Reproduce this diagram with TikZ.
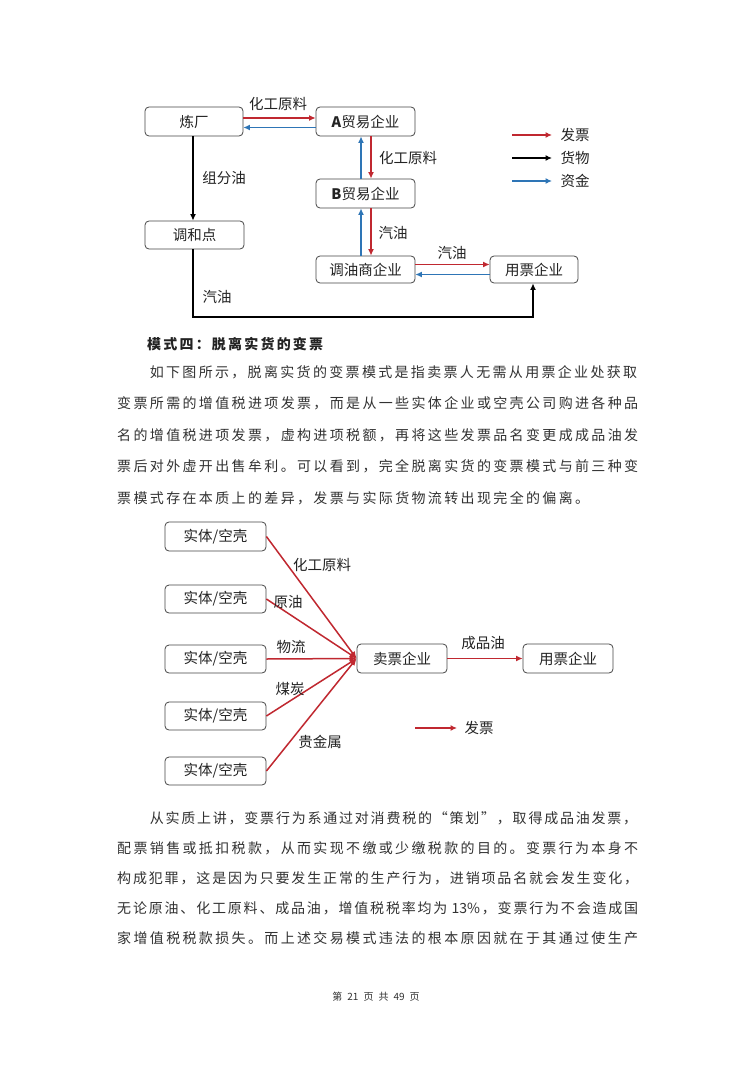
\documentclass[tikz,border=0pt]{standalone}
\usepackage{fontspec}
\setmainfont{Noto Sans CJK SC}
\usetikzlibrary{arrows.meta}
\definecolor{arrred}{RGB}{192,40,48}
\definecolor{arrblue}{RGB}{46,117,182}
\definecolor{boxc}{RGB}{70,70,70}
\definecolor{txt}{RGB}{35,35,35}
\definecolor{bodytxt}{RGB}{50,50,50}
\ExplSyntaxOn
\NewDocumentCommand\spreadline{mm}{\makebox[#1][s]{\tl_map_inline:nn{#2}{##1\hfil}\unskip}}
\ExplSyntaxOff
\tikzset{
  box/.style={draw=boxc, line width=0.8pt, rounded corners=4pt, inner sep=0pt,
    font=\fontsize{14.5}{14.5}\selectfont, text=txt},
  lbl/.style={font=\fontsize{14.5}{14.5}\selectfont, text=txt, inner sep=0pt},
  para/.style={font=\fontsize{14}{14}\selectfont, text=bodytxt, inner sep=0pt, anchor=west},
  ra/.style={draw=arrred, line width=1.5pt, -{Latex[length=6.5pt,width=6pt]}},
  ba/.style={draw=arrblue, line width=1.5pt, -{Latex[length=6.5pt,width=6pt]}},
  ka/.style={draw=black, line width=1.5pt, -{Latex[length=6.5pt,width=6pt]}},
  rl/.style={draw=arrred, line width=1.5pt, -{Latex[length=7pt,width=6pt]}},
}
\begin{document}
\begin{tikzpicture}[x=1pt,y=-1pt]
\useasboundingbox[fill=white] (0,0) rectangle (755,1067);
% ---------- diagram 1 ----------
\node[box, minimum width=98pt, minimum height=29pt] (lc) at (194,121.5) {炼厂};
\node[box, minimum width=99pt, minimum height=29pt] (A) at (365.5,121.5) {\textbf{A}贸易企业};
\node[box, minimum width=99pt, minimum height=29pt] (B) at (365.5,193.5) {\textbf{B}贸易企业};
\node[box, minimum width=99pt, minimum height=28pt] (thd) at (194.5,235) {调和点};
\node[box, minimum width=99pt, minimum height=27pt] (tys) at (365.5,269.5) {调油商企业};
\node[box, minimum width=88pt, minimum height=27pt] (yp1) at (534,269.5) {用票企业};

\draw[ra] ([yshift=3.5pt]lc.east) -- ([yshift=3.5pt]A.west);
\draw[ba] ([yshift=-6pt]A.west) -- ([yshift=-6pt]lc.east);
\draw[ra] ([xshift=5.5pt]A.south) -- ([xshift=5.5pt]B.north);
\draw[ba] ([xshift=-4.5pt]B.north) -- ([xshift=-4.5pt]A.south);
\draw[ra] ([xshift=5.5pt]B.south) -- ([xshift=5.5pt]tys.north);
\draw[ba] ([xshift=-4.5pt]tys.north) -- ([xshift=-4.5pt]B.south);
\draw[ra] ([yshift=5pt]tys.east) -- ([yshift=5pt]yp1.west);
\draw[ba] ([yshift=-5pt]yp1.west) -- ([yshift=-5pt]tys.east);
\draw[ka] ([xshift=-1pt]lc.south) -- ([xshift=-1.5pt]thd.north);
\coordinate (corner) at (533,317);
\draw[ka] ([xshift=-1.5pt]thd.south) |- (corner) -- ([xshift=-1pt]yp1.south);

\node[lbl] (t1) at (278,104) {化工原料};
\node[lbl] (t2) at (408,158) {化工原料};
\node[lbl] (t3) at (224,178) {组分油};
\node[lbl] (t4) at (393,233) {汽油};
\node[lbl] (t5) at (452,253) {汽油};
\node[lbl] (t6) at (217,297) {汽油};

\coordinate (l1a) at (512,135); \coordinate (l1b) at (552,135);
\coordinate (l2a) at (512,158); \coordinate (l2b) at (552,158);
\coordinate (l3a) at (512,181); \coordinate (l3b) at (552,181);
\draw[ra] (l1a) -- (l1b);
\draw[ka] (l2a) -- (l2b);
\draw[ba] (l3a) -- (l3b);
\node[lbl] (lg1) at (575,135) {发票};
\node[lbl] (lg2) at (575,158) {货物};
\node[lbl] (lg3) at (575,181) {资金};

% ---------- text 1 ----------
\node[para, font=\bfseries\fontsize{14}{14}\selectfont, text=txt] (h) at (147,344) {\spreadline{176pt}{模式四：脱离实货的变票}};
\node[para] (a1) at (149.6,372) {\spreadline{487.4pt}{如下图所示，脱离实货的变票模式是指卖票人无需从用票企业处获取}};
\node[para] (a2) at (117,403.5) {\spreadline{521pt}{变票所需的增值税进项发票，而是从一些实体企业或空壳公司购进各种品}};
\node[para] (a3) at (117,435) {\spreadline{521pt}{名的增值税进项发票，虚构进项税额，再将这些发票品名变更成成品油发}};
\node[para] (a4) at (117,466.5) {\spreadline{521pt}{票后对外虚开出售牟利。可以看到，完全脱离实货的变票模式与前三种变}};
\node[para] (a5) at (117,498) {\spreadline{472pt}{票模式存在本质上的差异，发票与实际货物流转出现完全的偏离。}};

% ---------- diagram 2 ----------
\node[box, minimum width=101pt, minimum height=29pt] (s1) at (215.5,536.5) {实体/空壳};
\node[box, minimum width=101pt, minimum height=28pt] (s2) at (215.5,599) {实体/空壳};
\node[box, minimum width=101pt, minimum height=28pt] (s3) at (215.5,659) {实体/空壳};
\node[box, minimum width=101pt, minimum height=28pt] (s4) at (215.5,716) {实体/空壳};
\node[box, minimum width=101pt, minimum height=28pt] (s5) at (215.5,771) {实体/空壳};
\node[box, minimum width=90pt, minimum height=29pt] (mp) at (402,658.5) {卖票企业};
\node[box, minimum width=90pt, minimum height=29pt] (yp2) at (568,658.5) {用票企业};
\foreach \s in {s1,s2,s3,s4,s5}{\draw[rl] (\s.east) -- (mp.west);}
\draw[ra] (mp.east) -- (yp2.west);
\node[lbl] (u1) at (322,565) {化工原料};
\node[lbl] (u2) at (288,602) {原油};
\node[lbl] (u3) at (291,647) {物流};
\node[lbl] (u4) at (290,689) {煤炭};
\node[lbl] (u5) at (320,742) {贵金属};
\node[lbl] (u6) at (483,643) {成品油};
\coordinate (l4a) at (415,728); \coordinate (l4b) at (457,728);
\draw[ra] (l4a) -- (l4b);
\node[lbl] (lg4) at (479,728) {发票};

% ---------- text 2 ----------
\node[para] (b1) at (149.6,818) {\spreadline{487.4pt}{从实质上讲，变票行为系通过对消费税的“策划”，取得成品油发票，}};
\node[para] (b2) at (117,848) {\spreadline{521pt}{配票销售或抵扣税款，从而实现不缴或少缴税款的目的。变票行为本身不}};
\node[para] (b3) at (117,878) {\spreadline{521pt}{构成犯罪，这是因为只要发生正常的生产行为，进销项品名就会发生变化，}};
\node[para] (b4) at (117,908) {\spreadline{521pt}{无论原油、化工原料、成品油，增值税税率均为{\,13\%}，变票行为不会造成国}};
\node[para] (b5) at (117,938) {\spreadline{521pt}{家增值税税款损失。而上述交易模式违法的根本原因就在于其通过使生产}};

\node[font=\fontsize{10}{10}\selectfont, text=bodytxt, inner sep=0pt] (ft) at (376,997) {第\hspace{5pt}21\hspace{5pt}页\hspace{5pt}共\hspace{5pt}49\hspace{5pt}页};
\end{tikzpicture}
\end{document}
